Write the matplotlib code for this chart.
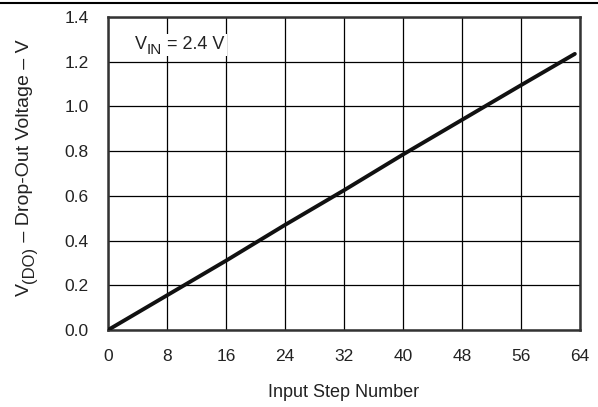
import matplotlib
matplotlib.use("Agg")
import matplotlib.pyplot as plt
from matplotlib.lines import Line2D

plt.rcParams['font.family'] = ['Liberation Sans', 'DejaVu Sans']

steps = [0, 8, 16, 24, 32, 40, 48, 56, 63.3]
vdo = [0.0, 0.155, 0.31, 0.47, 0.625, 0.785, 0.94, 1.095, 1.235]
xticks = [0, 8, 16, 24, 32, 40, 48, 56, 64]
yticks = [0.0, 0.2, 0.4, 0.6, 0.8, 1.0, 1.2, 1.4]

FS = 13
SUB = 11
TXT = '#222222'

fig = plt.figure(figsize=(5.98, 4.07), dpi=100)
ax = fig.add_axes([108/598, 1-330/407, (580-108)/598, (330-17)/407])

ax.plot(steps, vdo, color='#111111', lw=2.8, solid_capstyle='round', zorder=3)
ax.set_xlim(0, 64)
ax.set_ylim(0, 1.4)
ax.set_xticks(xticks)
ax.set_yticks(yticks)
ax.set_yticklabels([f"{v:.1f}" for v in yticks])
ax.grid(True, color='black', lw=0.9)
ax.tick_params(length=0, labelsize=FS - 0.5, pad=14, colors=TXT)
for s in ax.spines.values():
    s.set_linewidth(1.8)
    s.set_color('#333333')

ax.set_xlabel('Input Step Number', fontsize=FS, labelpad=14, color=TXT)

# V_IN annotation (subscript drawn as separate text)
x0, y0 = 3.65, 1.255
bb = dict(facecolor='white', edgecolor='none', pad=1.5)
ax.annotate('V', (x0, y0), fontsize=FS, color=TXT, ha='left', va='baseline', bbox=bb, zorder=4)
ax.annotate('IN', (x0, y0), xytext=(0.667*FS, -3.5), textcoords='offset points',
            fontsize=SUB, color=TXT, ha='left', va='baseline', bbox=bb, zorder=4)
ax.annotate(' = 2.4 V', (x0, y0), xytext=(0.667*FS + 1.0*SUB, 0), textcoords='offset points',
            fontsize=FS, color=TXT, ha='left', va='baseline', bbox=bb, zorder=4)

# Y label built from pieces (rotated)
YFS, YSUB = 14, 12
yx, yy = 29, 407 - 296
kw = dict(xycoords='figure pixels', textcoords='offset points', rotation=90,
          rotation_mode='anchor', ha='left', va='baseline', color=TXT)
ax.annotate('V', (yx, yy), xytext=(0, 0), fontsize=YFS, **kw)
ax.annotate('(DO)', (yx, yy), xytext=(3.8, 0.667*YFS), fontsize=YSUB, **kw)
ax.annotate(' – Drop-Out Voltage – V', (yx, yy), xytext=(0, 0.667*YFS + 2.166*YSUB),
            fontsize=YFS, **kw)

fig.add_artist(Line2D([0, 1], [1-3/407, 1-3/407], transform=fig.transFigure, color='black', lw=1.5))

fig.savefig('out.png', dpi=100)
